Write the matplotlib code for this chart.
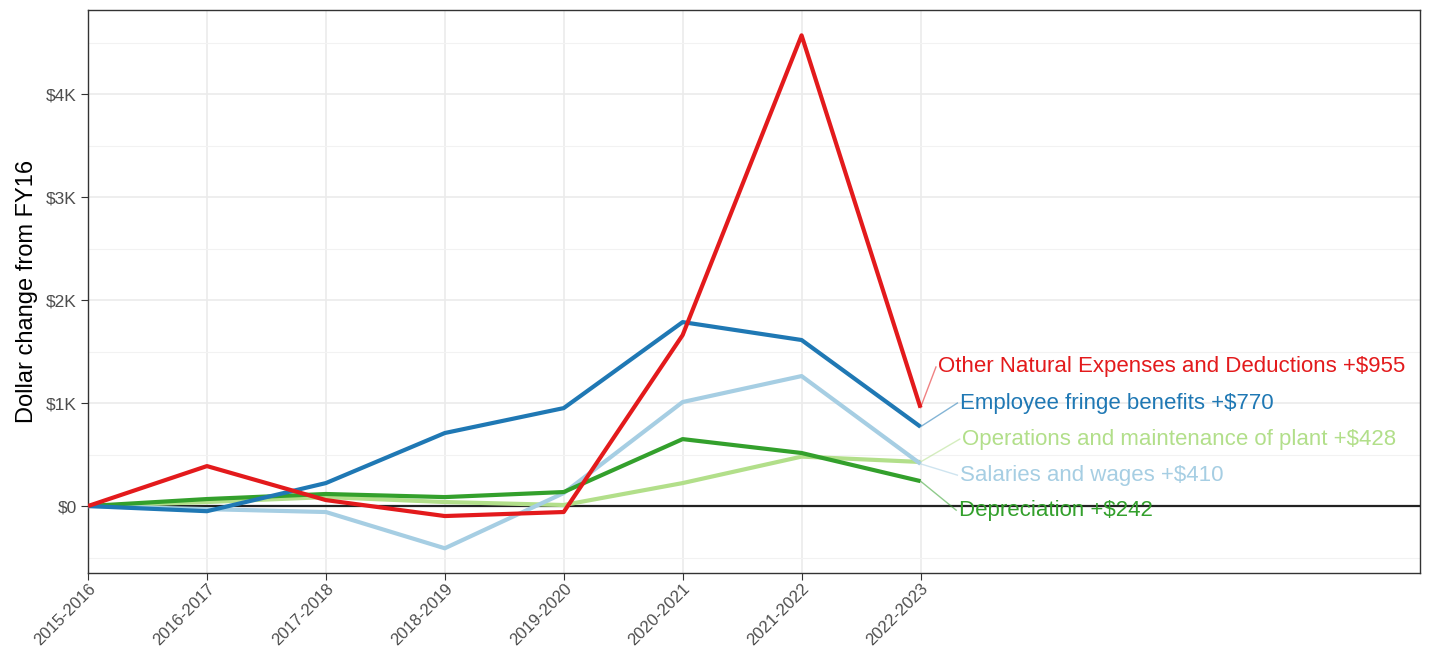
import numpy as np
import matplotlib.pyplot as plt
import matplotlib.transforms as mtransforms
from matplotlib.ticker import FuncFormatter, MultipleLocator

plt.rcParams["font.family"] = ["Liberation Sans", "DejaVu Sans"]

years = ["2015-2016", "2016-2017", "2017-2018", "2018-2019",
         "2019-2020", "2020-2021", "2021-2022", "2022-2023"]

other_natural = [0, 388, 58, -97, -58, 1660, 4570, 955]
fringe = [0, -50, 223, 709, 951, 1786, 1612, 770]
salaries = [0, -30, -58, -410, 126, 1010, 1262, 410]
depreciation = [0, 68, 117, 87, 136, 650, 515, 242]
operations = [0, 39, 87, 39, 10, 223, 480, 428]

names = ["Other Natural Expenses and Deductions", "Employee fringe benefits",
         "Operations and maintenance of plant", "Salaries and wages", "Depreciation"]
series = [other_natural, fringe, operations, salaries, depreciation]
colors = ["#E31A1C", "#1F78B4", "#B2DF8A", "#A6CEE3", "#33A02C"]

# repelled label positions (x in category units, y in dollars)
label_x = [7.15, 7.33, 7.35, 7.33, 7.32]
label_y = [1350, 1000, 650, 300, -40]

fig = plt.figure(figsize=(14.34, 6.52), dpi=100)
ax = fig.add_axes([88 / 1434, 1 - 573 / 652, (1420 - 88) / 1434, (573 - 10) / 652])

x = np.arange(len(years))
ax.axhline(0, color="#222222", lw=1.6, zorder=2)

draw_order = [2, 3, 4, 1, 0]
for i in draw_order:
    ax.plot(x, series[i], color=colors[i], lw=3, zorder=3, solid_capstyle="butt")

for i in range(len(names)):
    end = series[i][-1]
    ax.plot([x[-1], label_x[i] - 0.02], [end, label_y[i]], color=colors[i],
            lw=1, alpha=0.55, zorder=2)
    ax.text(label_x[i], label_y[i], f"{names[i]} +${end}", color=colors[i],
            fontsize=16, va="center", ha="left", zorder=4)

ax.set_xlim(0, 11.2)
ax.set_ylim(-650, 4816)
ax.set_xticks(x)
ax.set_xticklabels(years, rotation=45, ha="right", va="top",
                   rotation_mode="anchor", fontsize=12, color="#4D4D4D")
shift = mtransforms.ScaledTranslation(10 / 100, 0, fig.dpi_scale_trans)
for lbl in ax.get_xticklabels():
    lbl.set_transform(lbl.get_transform() + shift)
ax.yaxis.set_major_locator(MultipleLocator(1000))
ax.yaxis.set_minor_locator(MultipleLocator(500))
ax.yaxis.set_major_formatter(FuncFormatter(
    lambda v, p: "$0" if v == 0 else f"${int(v / 1000)}K"))
ax.tick_params(axis="y", labelsize=12.5, labelcolor="#4D4D4D", color="#333333",
               length=5, pad=3)
ax.tick_params(axis="x", color="#333333", length=5, pad=1)
ax.tick_params(axis="y", which="minor", length=0)

ax.grid(True, which="major", color="#EBEBEB", lw=1.2, zorder=0)
ax.grid(True, which="minor", axis="y", color="#F2F2F2", lw=0.8, zorder=0)
for s in ax.spines.values():
    s.set_color("#333333")
    s.set_linewidth(1)

ax.set_ylabel("Dollar change from FY16", fontsize=17, color="black", labelpad=6)

fig.savefig("out.png", dpi=100)
